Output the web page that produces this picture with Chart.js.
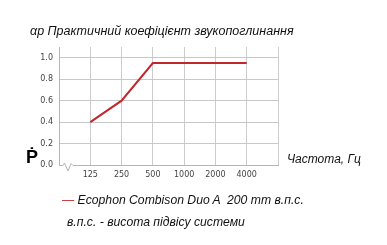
<!DOCTYPE html>
<html>
<head>
<meta charset="utf-8">
<script src="https://cdn.jsdelivr.net/npm/chart.js@4/dist/chart.umd.min.js"></script>
<style>
  html, body { margin: 0; padding: 0; background: #fff; }
  #wrap { position: relative; width: 387px; height: 245px; overflow: hidden; }
  #chart { position: absolute; left: 0; top: 0; }
  .txt { position: absolute; white-space: pre; font-family: "Liberation Sans", Arial, sans-serif; font-style: italic; color: #111; line-height: 1; }
</style>
</head>
<body>
<div id="wrap">
  <canvas id="chart" width="387" height="245"></canvas>
  <div class="txt" id="title" style="left:30px; top:25px; font-size:12.5px;"></div>
  <div class="txt" id="xTitle" style="left:287px; top:153px; font-size:12px;"></div>
  <div class="txt" style="left:26px; top:148px; font-size:18px; font-weight:bold; font-style:normal; color:#000;">Ṗ</div>
  <div class="txt" id="legend" style="left:62px; top:194px; font-size:12.2px;"></div>
  <div class="txt" id="note" style="left:67px; top:216px; font-size:12.2px;"></div>
</div>
<script>
// Дані графіка
const chartTitle = "αр Практичний коефіцієнт звукопоглинання";
const axisTitle = "Частота, Гц";
const noteText = "в.п.с. - висота підвісу системи";
const seriesName = "Ecophon Combison Duo A  200 mm в.п.с.";
const frequencies = ["", "125", "250", "500", "1000", "2000", "4000", ""];
const alphaValues = [null, 0.4, 0.6, 0.95, 0.95, 0.95, 0.95, null];
const yTickLabels = ["0.0", "0.2", "0.4", "0.6", "0.8", "1.0"];
const lineColor = "#c0282d";

document.getElementById('title').textContent = chartTitle;
document.getElementById('xTitle').textContent = axisTitle;
document.getElementById('note').textContent = noteText;
document.getElementById('legend').innerHTML =
    '<span style="color:' + lineColor + '; font-style:normal;">—</span> ' + seriesName;

// Розрив осі (зигзаг) біля початку осі X
const axisBreak = {
    id: 'axisBreak',
    afterDraw(chart) {
        const ctx = chart.ctx;
        const a = chart.chartArea;
        const x0 = a.left + 4, y0 = a.bottom;
        ctx.save();
        ctx.fillStyle = '#fff';
        ctx.fillRect(x0, y0 - 1, 10, 3);
        ctx.strokeStyle = '#b5b5b5';
        ctx.lineWidth = 1;
        ctx.beginPath();
        ctx.moveTo(x0, y0 + 0.5);
        ctx.lineTo(x0 + 1.5, y0 - 2);
        ctx.lineTo(x0 + 5, y0 + 6);
        ctx.lineTo(x0 + 8, y0 - 1.5);
        ctx.lineTo(x0 + 10, y0 + 0.5);
        ctx.stroke();
        ctx.restore();
    }
};

new Chart(document.getElementById('chart').getContext('2d'), {
    type: 'line',
    data: {
        labels: frequencies,
        datasets: [{
            label: seriesName,
            data: alphaValues,
            borderColor: lineColor,
            borderWidth: 2,
            pointRadius: 0,
            tension: 0,
            fill: false
        }]
    },
    options: {
        responsive: false,
        animation: false,
        layout: { padding: { left: 0, top: 47, right: 109, bottom: 0 } },
        plugins: {
            legend: { display: false },
            title: { display: false },
            tooltip: { enabled: false }
        },
        scales: {
            x: {
                type: 'category',
                offset: false,
                afterFit(scale) { scale.height = 80; },
                grid: { color: '#cccccc', lineWidth: 1, drawTicks: false },
                border: { color: '#b5b5b5' },
                ticks: {
                    color: '#444',
                    font: { family: 'DejaVu Sans', size: 8 },
                    padding: 5,
                    maxRotation: 0,
                    autoSkip: false
                }
            },
            y: {
                min: 0,
                max: 1.1,
                afterFit(scale) { scale.width = 59; },
                grid: { color: '#c8c8c8', lineWidth: 1, drawTicks: false },
                border: { color: '#b5b5b5' },
                ticks: {
                    stepSize: 0.1,
                    color: '#444',
                    font: { family: 'DejaVu Sans', size: 8 },
                    padding: 6,
                    callback: (v, i) => (i % 2 === 0 && i / 2 < yTickLabels.length) ? yTickLabels[i / 2] : ''
                }
            }
        }
    },
    plugins: [axisBreak]
});
</script>
</body>
</html>
